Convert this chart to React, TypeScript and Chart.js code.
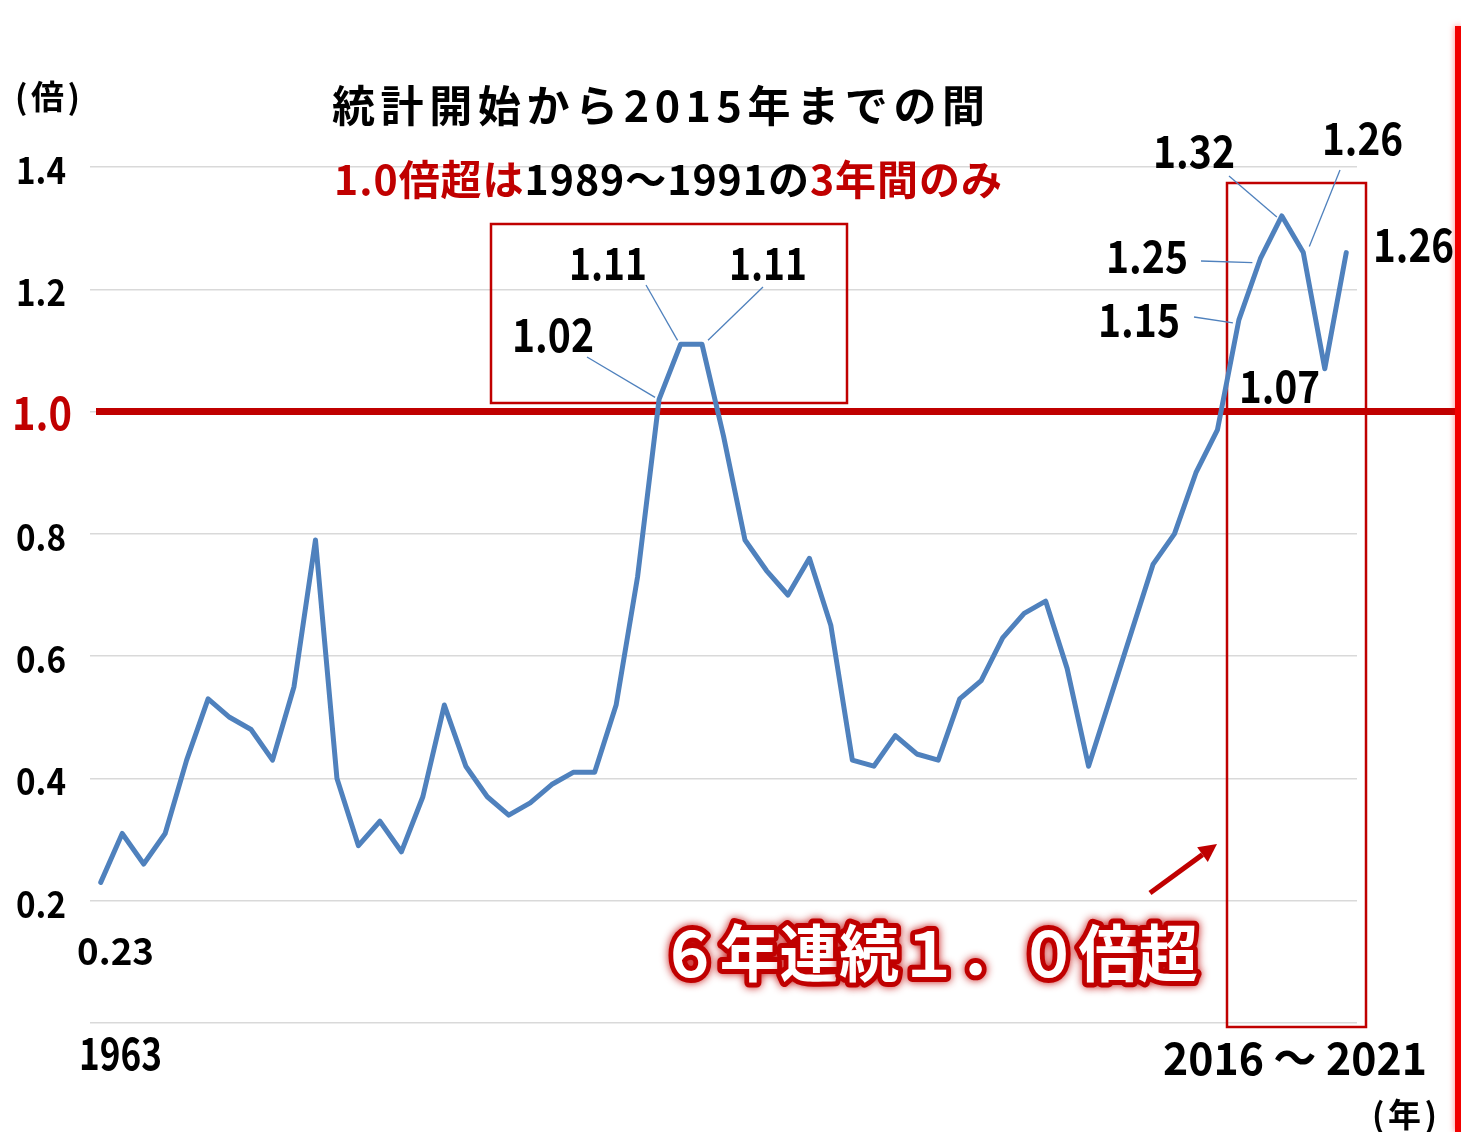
import React, { useEffect, useRef } from "react";
import { Chart, registerables } from "chart.js";

Chart.register(...registerables);

// ---- data ----
const years = [
  "1963", "1964", "1965", "1966", "1967", "1968", "1969", "1970", "1971", "1972",
  "1973", "1974", "1975", "1976", "1977", "1978", "1979", "1980", "1981", "1982",
  "1983", "1984", "1985", "1986", "1987", "1988", "1989", "1990", "1991", "1992",
  "1993", "1994", "1995", "1996", "1997", "1998", "1999", "2000", "2001", "2002",
  "2003", "2004", "2005", "2006", "2007", "2008", "2009", "2010", "2011", "2012",
  "2013", "2014", "2015", "2016", "2017", "2018", "2019", "2020", "2021",
];
const ratios = [
  0.23, 0.31, 0.26, 0.31, 0.43, 0.53, 0.5, 0.48, 0.43, 0.55,
  0.79, 0.4, 0.29, 0.33, 0.28, 0.37, 0.52, 0.42, 0.37, 0.34,
  0.36, 0.39, 0.41, 0.41, 0.52, 0.73, 1.02, 1.11, 1.11, 0.96,
  0.79, 0.74, 0.7, 0.76, 0.65, 0.43, 0.42, 0.47, 0.44, 0.43,
  0.53, 0.56, 0.63, 0.67, 0.69, 0.58, 0.42, 0.53, 0.64, 0.75,
  0.8, 0.9, 0.97, 1.15, 1.25, 1.32, 1.26, 1.07, 1.26,
];
const yTickValues = [0.2, 0.4, 0.6, 0.8, 1.0, 1.2, 1.4];
const yTickLabels = ["0.2", "0.4", "0.6", "0.8", "1.0", "1.2", "1.4"];
const threshold = 1.0;
const yUnit = "(倍)";
const xUnit = "(年)";
const firstYearLabel = "1963";
const rangeLabel = "2016 ～ 2021";
const firstValueLabel = "0.23";
const titleLine1 = "統計開始から2015年までの間";
const titleLine2Parts: [string, string][] = [
  ["1.0倍超は", "#c00000"],
  ["1989～1991の", "#000000"],
  ["3年間のみ", "#c00000"],
];
const bigCaption = "６年連続１．０倍超";

const FONT = '"Noto Sans CJK JP", "Noto Sans", sans-serif';
const RED = "#c00000";
const BLUE = "#4f81bd";

type Seg = [string, string];

function drawFit(
  ctx: CanvasRenderingContext2D,
  segs: Seg[],
  x0: number,
  x1: number,
  y: number,
  size: number,
  baseline: CanvasTextBaseline = "alphabetic",
  weight = "bold",
  mode: "fill" | "big" = "fill"
) {
  ctx.save();
  ctx.font = `${weight} ${size}px ${FONT}`;
  ctx.textBaseline = baseline;
  ctx.textAlign = "left";
  const chars: [string, string][] = [];
  segs.forEach(([t, c]) => Array.from(t).forEach((ch) => chars.push([ch, c])));
  const widths = chars.map(([ch]) => ctx.measureText(ch).width);
  const total = widths.reduce((a, b) => a + b, 0);
  const target = x1 - x0;
  let sx = 1;
  let gap = chars.length > 1 ? (target - total) / (chars.length - 1) : 0;
  if (gap < 0) {
    sx = target / total;
    gap = 0;
  }
  ctx.translate(x0, y);
  ctx.scale(sx, 1);
  let x = 0;
  chars.forEach(([ch, c], i) => {
    if (mode === "big") {
      ctx.save();
      ctx.shadowColor = "rgba(192,0,0,0.9)";
      ctx.shadowBlur = 8;
      ctx.lineJoin = "round";
      ctx.strokeStyle = c;
      ctx.lineWidth = 10;
      ctx.strokeText(ch, x, 0);
      ctx.restore();
      ctx.fillStyle = "#ffffff";
      ctx.fillText(ch, x, 0);
    } else {
      ctx.fillStyle = c;
      ctx.fillText(ch, x, 0);
    }
    x += widths[i] + gap / sx;
  });
  ctx.restore();
}

function line(ctx: CanvasRenderingContext2D, x0: number, y0: number, x1: number, y1: number) {
  ctx.beginPath();
  ctx.moveTo(x0, y0);
  ctx.lineTo(x1, y1);
  ctx.stroke();
}

type Callout = {
  idx: number;
  text: string;
  x0: number;
  x1: number;
  base: number;
  size: number;
  leader?: [number, number, number, number]; // start x,y, end offset dx,dy from point
};
const callouts: Callout[] = [
  { idx: 26, text: "1.02", x0: 512, x1: 594, base: 352, size: 46, leader: [587, 357, -4, -2] },
  { idx: 27, text: "1.11", x0: 569, x1: 647, base: 280, size: 45, leader: [646, 285, -3, -4] },
  { idx: 28, text: "1.11", x0: 729, x1: 807, base: 280, size: 45, leader: [763, 287, 6, -4] },
  { idx: 55, text: "1.32", x0: 1153, x1: 1235, base: 168, size: 45, leader: [1229, 176, -5, 1] },
  { idx: 56, text: "1.26", x0: 1322, x1: 1403, base: 155, size: 44, leader: [1340, 170, 6, -6] },
  { idx: 54, text: "1.25", x0: 1106, x1: 1188, base: 273, size: 45, leader: [1201, 261, -8, 4] },
  { idx: 53, text: "1.15", x0: 1098, x1: 1180, base: 337, size: 46, leader: [1194, 317, -6, 3] },
  { idx: 57, text: "1.07", x0: 1239, x1: 1320, base: 403, size: 45 },
  { idx: 58, text: "1.26", x0: 1373, x1: 1454, base: 262, size: 46 },
];

const decorPlugin = {
  id: "decor",
  beforeDraw(chart: any) {
    const ctx = chart.ctx as CanvasRenderingContext2D;
    ctx.save();
    ctx.fillStyle = "#ffffff";
    ctx.fillRect(0, 0, chart.width, chart.height);
    ctx.restore();
  },
  beforeDatasetsDraw(chart: any) {
    const ctx = chart.ctx as CanvasRenderingContext2D;
    const ys = chart.scales.y;
    ctx.save();
    ctx.strokeStyle = RED;
    ctx.lineWidth = 2.5;
    ctx.strokeRect(491, 224, 356, 179);
    ctx.strokeRect(1227, 183, 139, 844);
    const ty = ys.getPixelForValue(threshold);
    ctx.strokeStyle = RED;
    ctx.lineWidth = 7;
    line(ctx, 96, ty, chart.width, ty);
    ctx.restore();
  },
  afterDatasetsDraw(chart: any) {
    const ctx = chart.ctx as CanvasRenderingContext2D;
    const ys = chart.scales.y;
    const xs = chart.scales.x;
    ctx.save();

    // right red bar
    ctx.save();
    ctx.shadowColor = "rgba(255,0,0,0.5)";
    ctx.shadowBlur = 6;
    ctx.fillStyle = "#f20000";
    ctx.fillRect(1455, 26, 6, chart.height - 26);
    ctx.restore();

    // y tick labels
    yTickValues.forEach((v, i) => {
      const py = ys.getPixelForValue(v);
      if (v === threshold) {
        drawFit(ctx, [[yTickLabels[i], RED]], 12, 72, py + 18, 46, "alphabetic", "bold");
      } else {
        drawFit(ctx, [[yTickLabels[i], "#000"]], 16, 66, py + 17, 37, "alphabetic", "bold");
      }
    });

    // units
    drawFit(ctx, [[yUnit, "#000"]], 15, 80, 96, 33, "middle", "bold");
    drawFit(ctx, [[xUnit, "#000"]], 1372, 1437, 1114, 33, "middle", "bold");

    // x labels
    drawFit(ctx, [[firstYearLabel, "#000"]], 79, 162, 1070, 45, "alphabetic", "bold");
    drawFit(ctx, [[rangeLabel, "#000"]], 1163, 1427, 1075, 45, "alphabetic", "bold");
    drawFit(ctx, [[firstValueLabel, "#000"]], 77, 154, 965, 38, "alphabetic", "bold");

    // titles
    drawFit(ctx, [[titleLine1, "#000"]], 332, 985, 106, 43, "middle", "bold");
    drawFit(ctx, titleLine2Parts, 334, 1002, 179, 41, "middle", "bold");

    // callouts
    callouts.forEach((c) => {
      drawFit(ctx, [[c.text, "#000"]], c.x0, c.x1, c.base, c.size, "alphabetic", "bold");
      if (c.leader) {
        const px = xs.getPixelForValue(c.idx);
        const py = ys.getPixelForValue(ratios[c.idx]);
        ctx.strokeStyle = BLUE;
        ctx.lineWidth = 1.3;
        line(ctx, c.leader[0], c.leader[1], px + c.leader[2], py + c.leader[3]);
      }
    });

    // arrow
    ctx.strokeStyle = RED;
    ctx.fillStyle = RED;
    ctx.lineWidth = 5;
    const ax0 = 1150, ay0 = 893, ax1 = 1217, ay1 = 844;
    const ang = Math.atan2(ay1 - ay0, ax1 - ax0);
    const hl = 18, hw = 9;
    const bx = ax1 - hl * Math.cos(ang), by = ay1 - hl * Math.sin(ang);
    line(ctx, ax0, ay0, bx, by);
    ctx.beginPath();
    ctx.moveTo(ax1, ay1);
    ctx.lineTo(bx + hw * Math.sin(ang), by - hw * Math.cos(ang));
    ctx.lineTo(bx - hw * Math.sin(ang), by + hw * Math.cos(ang));
    ctx.closePath();
    ctx.fill();

    // big caption
    drawFit(ctx, [[bigCaption, RED]], 660, 1198, 953, 62, "middle", "bold", "big");

    ctx.restore();
  },
};

export default function App() {
  const ref = useRef<HTMLCanvasElement | null>(null);
  useEffect(() => {
    if (!ref.current) return;
    const chart = new Chart(ref.current, {
      type: "line",
      data: {
        labels: years,
        datasets: [
          {
            data: ratios,
            borderColor: BLUE,
            borderWidth: 5,
            pointRadius: 0,
            tension: 0,
            fill: false,
            borderJoinStyle: "round",
            borderCapStyle: "round",
          },
        ],
      },
      options: {
        responsive: false,
        devicePixelRatio: 1,
        animation: false,
        layout: { padding: { left: 90, right: 104, top: 167, bottom: 109 } },
        plugins: { legend: { display: false }, tooltip: { enabled: false } },
        scales: {
          x: {
            type: "category",
            offset: true,
            display: false,
          },
          y: {
            min: 0,
            max: 1.4,
            ticks: { stepSize: 0.2, display: false },
            grid: { color: "#d9d9d9", lineWidth: 1.5, drawTicks: false },
            border: { display: false },
          },
        },
      },
      plugins: [decorPlugin],
    });
    return () => chart.destroy();
  }, []);
  return (
    <div style={{ position: "absolute", left: 0, top: 0, width: 1461, height: 1132 }}>
      <canvas ref={ref} width={1461} height={1132} style={{ display: "block" }} />
    </div>
  );
}
